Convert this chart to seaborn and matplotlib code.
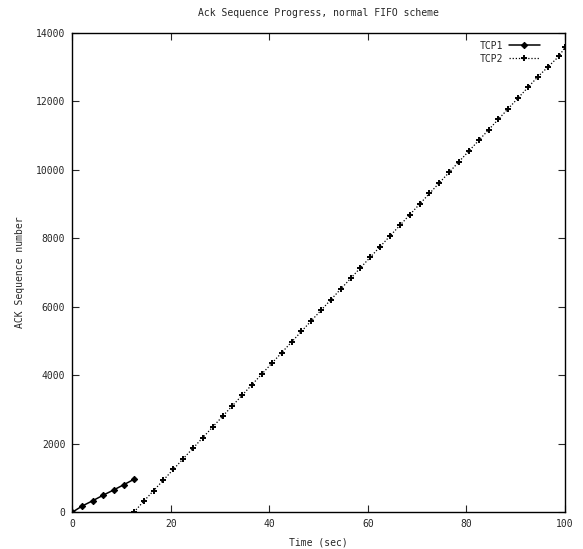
import matplotlib
matplotlib.use("Agg")
import matplotlib.pyplot as plt
import seaborn as sns
import pandas as pd

# TCP1: short solid run at the start
tcp1_time = [0, 2.0, 4.2, 6.3, 8.4, 10.4, 12.5]
tcp1_seq = [0, 180, 340, 500, 650, 800, 960]

# TCP2: long dotted run after TCP1 stops
tcp2_time = [12.5, 14.5, 16.5, 18.5, 20.5, 22.5, 24.5, 26.5, 28.5, 30.5,
             32.5, 34.5, 36.5, 38.5, 40.5, 42.5, 44.5, 46.5, 48.5, 50.5,
             52.5, 54.5, 56.5, 58.5, 60.5, 62.5, 64.5, 66.5, 68.5, 70.5,
             72.5, 74.5, 76.5, 78.5, 80.5, 82.5, 84.5, 86.5, 88.5, 90.5,
             92.5, 94.5, 96.5, 98.8, 100.0]
tcp2_seq = [0, 320, 630, 940, 1250, 1560, 1870, 2180, 2490, 2800,
            3110, 3420, 3730, 4040, 4350, 4660, 4970, 5280, 5590, 5900,
            6210, 6520, 6830, 7140, 7450, 7760, 8070, 8380, 8690, 9000,
            9310, 9620, 9930, 10240, 10550, 10860, 11170, 11480, 11790, 12100,
            12410, 12720, 13000, 13320, 13580]

x_ticks = [0, 20, 40, 60, 80, 100]
y_ticks = [0, 2000, 4000, 6000, 8000, 10000, 12000, 14000]

df1 = pd.DataFrame({"time": tcp1_time, "seq": tcp1_seq})
df2 = pd.DataFrame({"time": tcp2_time, "seq": tcp2_seq})

sns.set_style("ticks")
plt.rcParams["font.family"] = ["DejaVu Sans Mono"]

fig = plt.figure(figsize=(5.83, 5.49), dpi=100)
ax = fig.add_axes([0.124, 0.067, 0.845, 0.873])

sns.lineplot(data=df1, x="time", y="seq", ax=ax, color="black", linewidth=1.1,
             marker="D", markersize=3.2, markeredgecolor="black", label="TCP1")
sns.lineplot(data=df2, x="time", y="seq", ax=ax, color="black", linewidth=0.9,
             linestyle=(0, (1, 1.5)), marker="+", markersize=5, markeredgewidth=1.4,
             markeredgecolor="black", label="TCP2")

ax.set_xlim(0, 100)
ax.set_ylim(0, 14000)
ax.set_xticks(x_ticks)
ax.set_yticks(y_ticks)
ax.tick_params(direction="in", top=True, right=True, length=5, width=0.8,
               labelsize=7, pad=5)
for s in ax.spines.values():
    s.set_linewidth(1.0)
    s.set_color("black")

ax.set_title("Ack Sequence Progress, normal FIFO scheme", fontsize=7, pad=12)
ax.set_xlabel("Time (sec)", fontsize=7, labelpad=6)
ax.set_ylabel("ACK Sequence number", fontsize=7, labelpad=8)

ax.legend(loc="upper right", bbox_to_anchor=(0.957, 0.992), frameon=False,
          fontsize=7, markerfirst=False, handlelength=3.2, handletextpad=0.6,
          labelspacing=0.3, borderaxespad=0.0)

fig.savefig("out.png", dpi=100)
